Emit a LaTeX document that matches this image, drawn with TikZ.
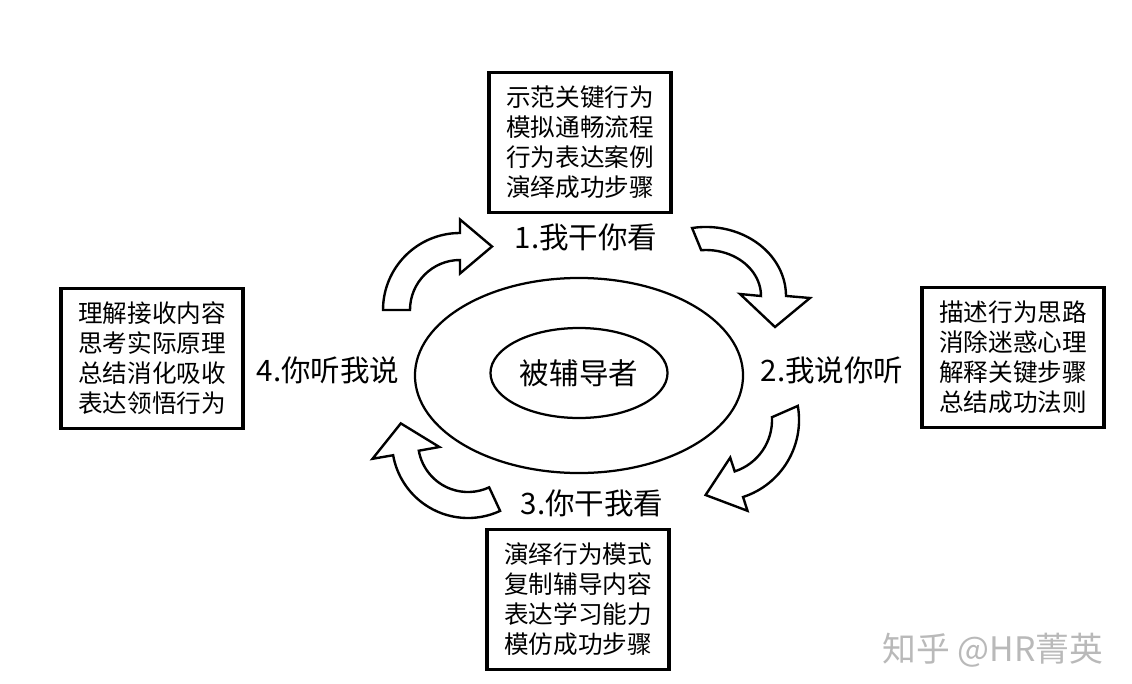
\documentclass[tikz,border=0pt]{standalone}
\usepackage{fontspec}
\setmainfont{Noto Sans CJK SC}
\usetikzlibrary{shapes.geometric}

\tikzset{
    textbox/.style={draw,line width=2.2pt,minimum width=4.55cm,minimum height=3.5cm,
        inner sep=0pt,align=center,font=\fontsize{17.5}{21.3}\selectfont},
    steplabel/.style={inner sep=0pt,font=\fontsize{21}{25}\selectfont},
    ring/.style={draw,ellipse,line width=1.6pt,inner sep=0pt},
    bigarrow/.style={draw,fill=white,line width=1.7pt,line join=miter}
}

\begin{document}
\begin{tikzpicture}[x=0.025cm,y=-0.025cm]
    \useasboundingbox (0,0) rectangle (1132,684);

    % Centre
    \node[ring,minimum width=8.2cm,minimum height=4.875cm] (outer) at (579,375.5) {};
    \node[ring,minimum width=4.425cm,minimum height=2.25cm,
          font=\fontsize{21}{25}\selectfont] (inner) at (579,373) {被辅导者};

    % Boxes
    \node[textbox] (doBox) at (580,142.5) {示范关键行为\\模拟通畅流程\\行为表达案例\\演绎成功步骤};
    \node[textbox] (sayBox) at (1013,357.5) {描述行为思路\\消除迷惑心理\\解释关键步骤\\总结成功法则};
    \node[textbox] (watchBox) at (578,599.5) {演绎行为模式\\复制辅导内容\\表达学习能力\\模仿成功步骤};
    \node[textbox] (listenBox) at (152,358.5) {理解接收内容\\思考实际原理\\总结消化吸收\\表达领悟行为};

    % Step labels
    \node[steplabel] (s1) at (586,237) {1.我干你看};
    \node[steplabel] (s2) at (832,370) {2.我说你听};
    \node[steplabel] (s3) at (592,503) {3.你干我看};
    \node[steplabel] (s4) at (328,370) {4.你听我说};

    % Curved arrows
    % 4 -> 1
    \draw[bigarrow] (383,310) arc[start angle=180,end angle=270,radius=77]
        -- (460,219.5) -- (492,246.5) -- (460,273.5) -- (460,260)
        arc[start angle=270,end angle=180,radius=50] -- cycle;
    % 1 -> 2
    \draw[bigarrow] (692.1,228) arc[start angle=260,end angle=360,x radius=80,y radius=69]
        -- (810,298) -- (775,327) -- (740,294) -- (761,296)
        arc[start angle=0,end angle=-95,x radius=55,y radius=46] -- cycle;
    % 2 -> 3
    \draw[bigarrow] (797.8,405.9) arc[start angle=-10,end angle=72,radius=81]
        -- (747.5,510.8) -- (705.6,495) -- (730.2,457.6) -- (734.7,471.4)
        arc[start angle=72,end angle=-3,radius=54] -- cycle;
    % 3 -> 4
    \draw[bigarrow] (500.1,510.9) arc[start angle=65,end angle=170,radius=76]
        -- (372.5,458.8) -- (400.8,423.4) -- (439.4,447) -- (418.8,450.7)
        arc[start angle=170,end angle=65,radius=50] -- cycle;

    % Watermark
    \node[inner sep=0pt,text=gray!55,font=\fontsize{24}{28}\selectfont] (mark) at (993,650) {知乎 @HR菁英};
\end{tikzpicture}
\end{document}
